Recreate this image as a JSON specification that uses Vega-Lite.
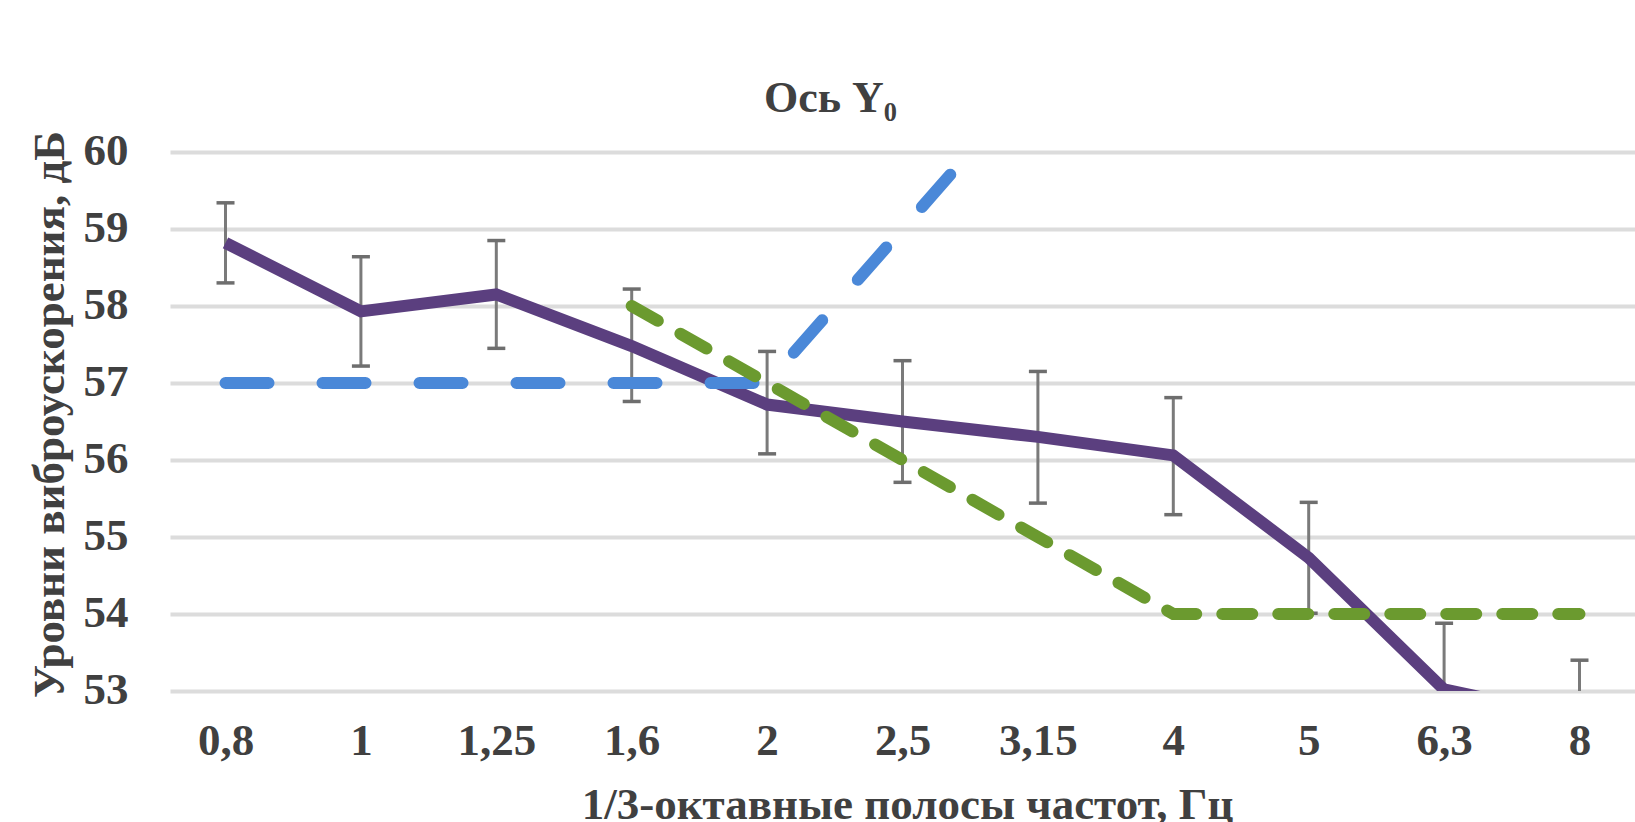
{
  "$schema": "https://vega.github.io/schema/vega-lite/v6.json",
  "width": 1465,
  "height": 539,
  "autosize": {"type": "none"},
  "padding": {"left": 170, "top": 152, "right": 0, "bottom": 131},
  "background": "white",
  "title": {
    "text": "Ось Y₀",
    "anchor": "middle",
    "frame": "group",
    "baseline": "alphabetic",
    "offset": 61,
    "dx": -72,
    "dy": 89,
    "font": "Liberation Serif",
    "fontSize": 44,
    "fontWeight": "bold",
    "color": "#404040"
  },
  "config": {
    "view": {"stroke": null},
    "font": "Liberation Serif",
    "axisX": {
      "domain": false,
      "ticks": false,
      "tickSize": 0,
      "grid": false,
      "labelAngle": 0,
      "labelFont": "Liberation Serif",
      "labelFontSize": 45,
      "labelFontWeight": "bold",
      "labelColor": "#404040",
      "labelBaseline": "alphabetic",
      "labelPadding": 63,
      "titleFont": "Liberation Serif",
      "titleFontSize": 45,
      "titleFontWeight": "bold",
      "titleColor": "#404040",
      "titleX": 737,
      "titleY": 127,
      "titleBaseline": "alphabetic",
      "titleAlign": "center"
    },
    "axisY": {
      "domain": false,
      "ticks": false,
      "tickSize": 0,
      "grid": true,
      "gridColor": "#dcdcdc",
      "gridWidth": 4,
      "tickCount": 7,
      "labelFont": "Liberation Serif",
      "labelFontSize": 45,
      "labelFontWeight": "bold",
      "labelColor": "#404040",
      "labelBaseline": "alphabetic",
      "labelOffset": 12,
      "labelPadding": 42,
      "titleFont": "Liberation Serif",
      "titleFontSize": 45,
      "titleFontWeight": "bold",
      "titleColor": "#404040",
      "titleX": -107,
      "titleY": 262,
      "titleAngle": -90,
      "titleBaseline": "alphabetic",
      "titleAlign": "center"
    }
  },
  "data": {
    "values": [
      {"f": "0,8", "mean": 58.82, "lo": 58.30, "hi": 59.34, "blue": 57, "green": null},
      {"f": "1", "mean": 57.93, "lo": 57.22, "hi": 58.64, "blue": 57, "green": null},
      {"f": "1,25", "mean": 58.15, "lo": 57.45, "hi": 58.85, "blue": 57, "green": null},
      {"f": "1,6", "mean": 57.48, "lo": 56.76, "hi": 58.22, "blue": 57, "green": 58},
      {"f": "2", "mean": 56.72, "lo": 56.08, "hi": 57.41, "blue": 57, "green": 57},
      {"f": "2,5", "mean": 56.5, "lo": 55.71, "hi": 57.29, "blue": 59, "green": 56},
      {"f": "3,15", "mean": 56.3, "lo": 55.44, "hi": 57.15, "blue": 61, "green": 55},
      {"f": "4", "mean": 56.06, "lo": 55.29, "hi": 56.81, "blue": null, "green": 54},
      {"f": "5", "mean": 54.73, "lo": 54.01, "hi": 55.45, "blue": null, "green": 54},
      {"f": "6,3", "mean": 53.02, "lo": 52.14, "hi": 53.88, "blue": null, "green": 54},
      {"f": "8", "mean": 52.65, "lo": 51.9, "hi": 53.4, "blue": null, "green": 54}
    ]
  },
  "encoding": {
    "x": {
      "field": "f",
      "type": "ordinal",
      "sort": null,
      "title": "1/3-октавные полосы частот, Гц",
      "scale": {"type": "point", "padding": 0.41}
    }
  },
  "layer": [
    {
      "mark": {"type": "rule", "color": "#7a7a7a", "strokeWidth": 3, "clip": true},
      "encoding": {
        "y": {"field": "lo", "type": "quantitative", "title": "Уровни виброускорения, дБ", "scale": {"domain": [53, 60], "nice": false, "zero": false}},
        "y2": {"field": "hi"}
      }
    },
    {
      "mark": {"type": "tick", "color": "#6e6e6e", "thickness": 3.5, "size": 18, "clip": true, "opacity": 1},
      "encoding": {
        "y": {"field": "lo", "type": "quantitative", "title": "Уровни виброускорения, дБ", "scale": {"domain": [53, 60], "nice": false, "zero": false}}
      }
    },
    {
      "mark": {"type": "tick", "color": "#6e6e6e", "thickness": 3.5, "size": 18, "clip": true, "opacity": 1},
      "encoding": {
        "y": {"field": "hi", "type": "quantitative", "title": "Уровни виброускорения, дБ", "scale": {"domain": [53, 60], "nice": false, "zero": false}}
      }
    },
    {
      "mark": {"type": "line", "color": "#5b3f7f", "strokeWidth": 12, "clip": true},
      "encoding": {
        "y": {"field": "mean", "type": "quantitative", "title": "Уровни виброускорения, дБ", "scale": {"domain": [53, 60], "nice": false, "zero": false}}
      }
    },
    {
      "mark": {"type": "line", "color": "#4a88d8", "strokeWidth": 12, "strokeCap": "round", "strokeDash": [43, 54], "clip": true},
      "encoding": {
        "y": {"field": "blue", "type": "quantitative", "title": "Уровни виброускорения, дБ", "scale": {"domain": [53, 60], "nice": false, "zero": false}}
      }
    },
    {
      "mark": {"type": "line", "color": "#6b9a2f", "strokeWidth": 12, "strokeCap": "round", "strokeDash": [30, 26], "clip": true},
      "encoding": {
        "y": {"field": "green", "type": "quantitative", "title": "Уровни виброускорения, дБ", "scale": {"domain": [53, 60], "nice": false, "zero": false}}
      }
    }
  ]
}
